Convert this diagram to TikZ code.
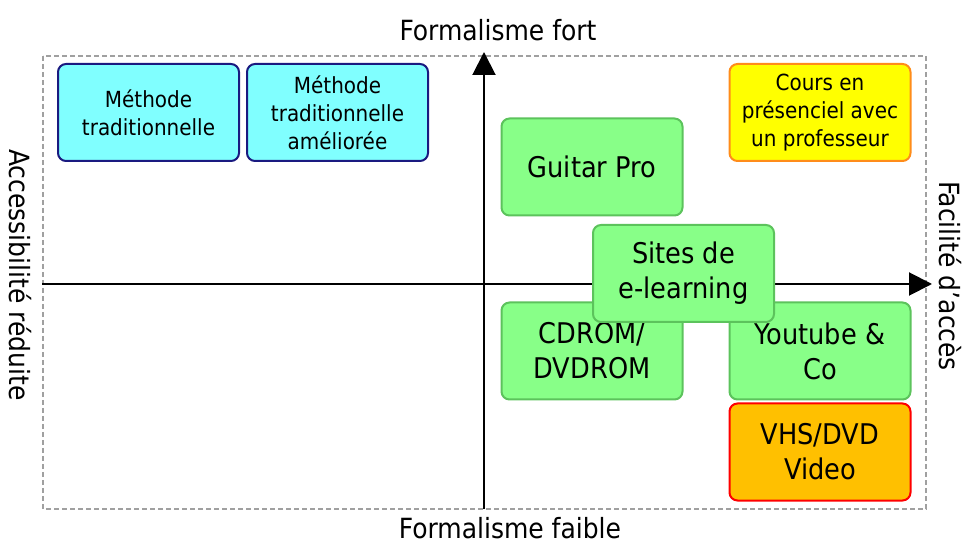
\documentclass[tikz,border=0pt]{standalone}
\usepackage{fontspec}
\setmainfont{DejaVu Sans Condensed}
\usetikzlibrary{arrows.meta}
\definecolor{cyanfill}{HTML}{80FFFF}
\definecolor{navyline}{HTML}{1A1A80}
\definecolor{greenfill}{HTML}{88FF88}
\definecolor{greenline}{HTML}{5CC35C}
\definecolor{yellowfill}{HTML}{FFFF00}
\definecolor{orangeline}{HTML}{FF8C1A}
\definecolor{vhsfill}{HTML}{FFC000}
\definecolor{redline}{HTML}{FF0000}
\definecolor{dashgray}{HTML}{A0A0A0}
\tikzset{
  box/.style={rectangle, rounded corners=8pt, line width=2pt, minimum width=181pt, minimum height=97pt, align=center, inner sep=0pt},
  bigtext/.style={font=\fontsize{28.5}{35}\selectfont},
  smalltext/.style={font=\fontsize{22.2}{28}\selectfont},
  axislabel/.style={font=\fontsize{27.8}{30}\selectfont, inner sep=0pt},
  axis/.style={line width=2pt, -{Triangle[length=23pt,width=23pt]}},
  cyanbox/.style={box, smalltext, fill=cyanfill, draw=navyline},
  greenbox/.style={box, bigtext, fill=greenfill, draw=greenline},
  yellowbox/.style={box, smalltext, fill=yellowfill, draw=orangeline},
  vhsbox/.style={box, bigtext, fill=vhsfill, draw=redline}
}
\begin{document}
\begin{tikzpicture}[x=1pt, y=-1pt]
\useasboundingbox (0,0) rectangle (962,545);
\draw[dashgray, line width=1.5pt, dash pattern=on 5pt off 3pt] (43,56) rectangle (926,509);
\coordinate (vb) at (484,509);
\coordinate (vt) at (484,52);
\coordinate (hl) at (42,284);
\coordinate (hr) at (932,284);
\draw[axis] (vb) -- (vt);
\draw[axis] (hl) -- (hr);
\node[axislabel] (ff) at (498,30) {Formalisme fort};
\node[axislabel] (fb) at (510,528) {Formalisme faible};
\node[axislabel, rotate=-90] (ar) at (20,275) {Accessibilité réduite};
\node[axislabel, rotate=-90] (fa) at (950,276) {Facilité d'accès};
\node[cyanbox] (m1) at (148.5,112.5) {Méthode\\traditionnelle};
\node[cyanbox] (m2) at (337.5,112.5) {Méthode\\traditionnelle\\améliorée};
\node[yellowbox] (cours) at (820,112.5) {Cours en\\présenciel avec\\un professeur};
\node[greenbox] (guitar) at (592,167) {Guitar Pro};
\node[greenbox] (cdrom) at (592,351) {CDROM/\\DVDROM};
\node[greenbox] (youtube) at (820,351) {Youtube \&\\Co};
\node[vhsbox] (vhs) at (820,452) {VHS/DVD\\Video};
\node[greenbox] (sites) at (683.5,273.5) {Sites de\\e-learning};
\end{tikzpicture}
\end{document}
